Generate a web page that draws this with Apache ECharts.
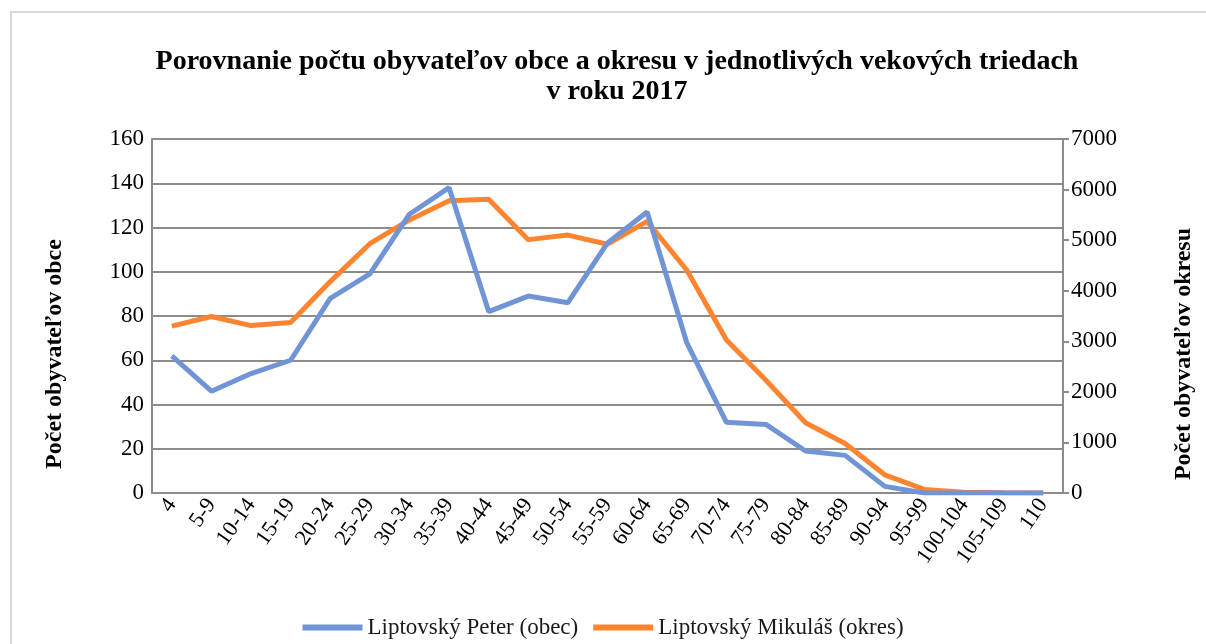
<!DOCTYPE html>
<html>
<head>
<meta charset="utf-8">
<script src="https://cdn.jsdelivr.net/npm/echarts@6/dist/echarts.min.js"></script>
<style>
  html, body { margin: 0; padding: 0; background: #fff; }
  #frame { position: absolute; left: 10px; top: 11px; width: 1200px; height: 640px; border: 2px solid #d9d9d9; box-sizing: border-box; }
  #chart { position: absolute; left: 0; top: 0; width: 1206px; height: 644px; }
</style>
</head>
<body>
<div id="frame"></div>
<div id="chart"></div>
<script>
  // vekove triedy
  var categories = ['4', '5-9', '10-14', '15-19', '20-24', '25-29', '30-34', '35-39', '40-44', '45-49',
    '50-54', '55-59', '60-64', '65-69', '70-74', '75-79', '80-84', '85-89', '90-94', '95-99',
    '100-104', '105-109', '110']
  // obec (lava os)
  var obecValues = [62, 46, 54, 60, 88, 99, 126, 138, 82, 89, 86, 113, 127, 68, 32, 31, 19, 17, 3, 0, 0, 0, 0]
  // okres (prava os)
  var okresValues = [3300, 3490, 3310, 3370, 4180, 4930, 5400, 5780, 5810, 5010, 5100, 4920, 5370, 4410,
    3030, 2230, 1390, 980, 360, 70, 15, 5, 0]
  var leftTicks = { min: 0, max: 160, interval: 20 }
  var rightTicks = { min: 0, max: 7000, interval: 1000 }

  var font = '"Liberation Serif", "DejaVu Serif", serif'
  var myChart = echarts.init(document.getElementById('chart'))
  myChart.setOption({
    backgroundColor: 'transparent',
    animation: false,
    textStyle: { fontFamily: font },
    title: {
      text: 'Porovnanie počtu obyvateľov obce a okresu v jednotlivých vekových triedach\nv roku 2017',
      left: 612,
      top: 42,
      textAlign: 'center',
      textStyle: { fontFamily: font, fontSize: 28, fontWeight: 'bold', color: '#000', lineHeight: 30 }
    },
    legend: {
      top: 612,
      left: 'center',
      padding: 4,
      icon: 'rect',
      itemWidth: 60,
      itemHeight: 6,
      itemGap: 15,
      textStyle: { fontFamily: font, fontSize: 23, color: '#1a1a1a' },
      data: ['Liptovský Peter (obec)', 'Liptovský Mikuláš (okres)']
    },
    grid: { left: 152, right: 143, top: 139, bottom: 151 },
    xAxis: {
      type: 'category',
      data: categories,
      boundaryGap: true,
      axisLine: { lineStyle: { color: '#8c8c8c', width: 2 } },
      axisTick: { show: false },
      axisLabel: {
        interval: 0,
        rotate: 55,
        margin: 8,
        fontFamily: font,
        fontSize: 22,
        color: '#000'
      }
    },
    yAxis: [{
      type: 'value',
      min: leftTicks.min,
      max: leftTicks.max,
      interval: leftTicks.interval,
      name: 'Počet obyvateľov obce',
      nameLocation: 'middle',
      nameRotate: 90,
      nameGap: 85,
      nameTextStyle: { fontFamily: font, fontSize: 24, fontWeight: 'bold', color: '#000', padding: [0, 76, 0, 0] },
      axisLine: { show: true, lineStyle: { color: '#8c8c8c', width: 2 } },
      axisTick: { show: false },
      axisLabel: { fontFamily: font, fontSize: 23, color: '#000', margin: 8 },
      splitLine: { lineStyle: { color: '#8c8c8c', width: 2 } }
    }, {
      type: 'value',
      min: rightTicks.min,
      max: rightTicks.max,
      interval: rightTicks.interval,
      name: 'Počet obyvateľov okresu',
      nameLocation: 'middle',
      nameRotate: 90,
      nameGap: 109,
      nameTextStyle: { fontFamily: font, fontSize: 24, fontWeight: 'bold', color: '#000', padding: [0, 76, 0, 0] },
      axisLine: { show: true, lineStyle: { color: '#8c8c8c', width: 2 } },
      axisTick: { show: true, length: 6, lineStyle: { color: '#8c8c8c', width: 2 } },
      axisLabel: {
        fontFamily: font, fontSize: 23, color: '#000', margin: 8,
        formatter: function (v) { return String(v) }
      },
      splitLine: { show: false }
    }],
    series: [{
      name: 'Liptovský Peter (obec)',
      type: 'line',
      yAxisIndex: 0,
      data: obecValues,
      showSymbol: false,
      lineStyle: { color: '#7094d6', width: 5 },
      itemStyle: { color: '#7094d6' },
      z: 3
    }, {
      name: 'Liptovský Mikuláš (okres)',
      type: 'line',
      yAxisIndex: 1,
      data: okresValues,
      showSymbol: false,
      lineStyle: { color: '#fd8532', width: 5 },
      itemStyle: { color: '#fd8532' },
      z: 2
    }]
  })
</script>
</body>
</html>
